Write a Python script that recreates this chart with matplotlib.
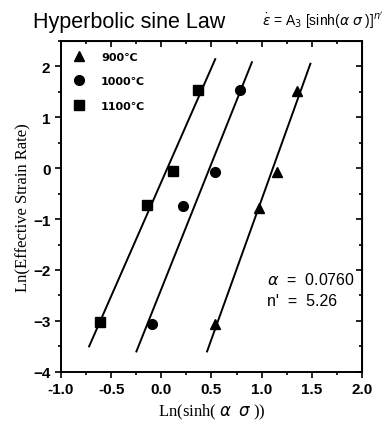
import numpy as np
import matplotlib
matplotlib.use("Agg")
import matplotlib.pyplot as plt
from matplotlib.ticker import MultipleLocator

# data
x_900 = [0.54, 0.97, 1.15, 1.35]
y_900 = [-3.07, -0.78, -0.08, 1.52]
x_1000 = [-0.09, 0.22, 0.54, 0.78]
y_1000 = [-3.07, -0.75, -0.07, 1.54]
x_1100 = [-0.61, -0.14, 0.12, 0.37]
y_1100 = [-3.02, -0.73, -0.05, 1.54]
labels = ["900\u2103", "1000\u2103", "1100\u2103"]
markers = ["^", "o", "s"]
# y range covered by each fitted line
line_y = [(-3.6, 2.05), (-3.6, 2.08), (-3.5, 2.14)]

plt.rcParams['font.family'] = ['Liberation Sans', 'DejaVu Sans']

fig = plt.figure(figsize=(3.88, 4.31), dpi=100)
ax = fig.add_axes([0.157, 0.135, 0.776, 0.768])

series = [(x_900, y_900), (x_1000, y_1000), (x_1100, y_1100)]
for (xs, ys), lab, mk, (ya, yb) in zip(series, labels, markers, line_y):
    ax.plot(xs, ys, linestyle='none', marker=mk, color='black', markersize=7, label=lab)
    k, b = np.polyfit(xs, ys, 1)
    yy = np.array([ya, yb])
    ax.plot((yy - b) / k, yy, color='black', linewidth=1.4)

ax.set_xlim(-1.0, 2.0)
ax.set_ylim(-4, 2.5)
ax.xaxis.set_major_locator(MultipleLocator(0.5))
ax.xaxis.set_minor_locator(MultipleLocator(0.25))
ax.yaxis.set_major_locator(MultipleLocator(1))
ax.yaxis.set_minor_locator(MultipleLocator(0.5))
ax.set_xticks(np.arange(-1.0, 2.01, 0.5))
ax.set_xticklabels(["-1.0", "-0.5", "0.0", "0.5", "1.0", "1.5", "2.0"])
ax.tick_params(which='both', direction='out', top=False, right=False, labelsize=11, width=1.2)
ax.tick_params(which='major', length=4)
ax.tick_params(which='minor', length=2.5)
for lab in ax.get_xticklabels() + ax.get_yticklabels():
    lab.set_fontweight('bold')

# inward ticks on top and right
sec_x = ax.secondary_xaxis('top')
sec_x.xaxis.set_major_locator(MultipleLocator(0.5))
sec_x.xaxis.set_minor_locator(MultipleLocator(0.25))
sec_x.tick_params(which='both', direction='in', labeltop=False, width=1.2)
sec_x.tick_params(which='major', length=4)
sec_x.tick_params(which='minor', length=2.5)
sec_y = ax.secondary_yaxis('right')
sec_y.yaxis.set_major_locator(MultipleLocator(1))
sec_y.yaxis.set_minor_locator(MultipleLocator(0.5))
sec_y.tick_params(which='both', direction='in', labelright=False, width=1.2)
sec_y.tick_params(which='major', length=4)
sec_y.tick_params(which='minor', length=2.5)
for sp in ax.spines.values():
    sp.set_linewidth(1.4)

ax.set_xlabel(r"Ln(sinh( $\alpha$  $\sigma$ ))", fontfamily='Liberation Serif', fontsize=12)
ax.set_ylabel("Ln(Effective Strain Rate)", fontfamily='Liberation Serif', fontsize=12, labelpad=1)

leg = ax.legend(loc='upper left', frameon=False, handletextpad=1.4,
                labelspacing=1.3, borderaxespad=0.6, handlelength=1.2,
                prop={'weight': 'bold', 'size': 8, 'family': ['DejaVu Sans', 'Noto Sans CJK SC']})

ax.text(1.05, -2.17, r"$\alpha$  =  0.0760", fontsize=11.5, va='center')
ax.text(1.05, -2.6, "n'  =  5.26", fontsize=11.5, va='center')

fig.text(0.085, 0.948, "Hyperbolic sine Law", fontsize=15.5, va='center')
fig.text(0.675, 0.952, r"$\dot{\varepsilon}$ = A$_3$ [sinh($\alpha$ $\sigma$ )]$^{n'}$",
         fontsize=10, va='center')

fig.savefig("out.png", dpi=100)
